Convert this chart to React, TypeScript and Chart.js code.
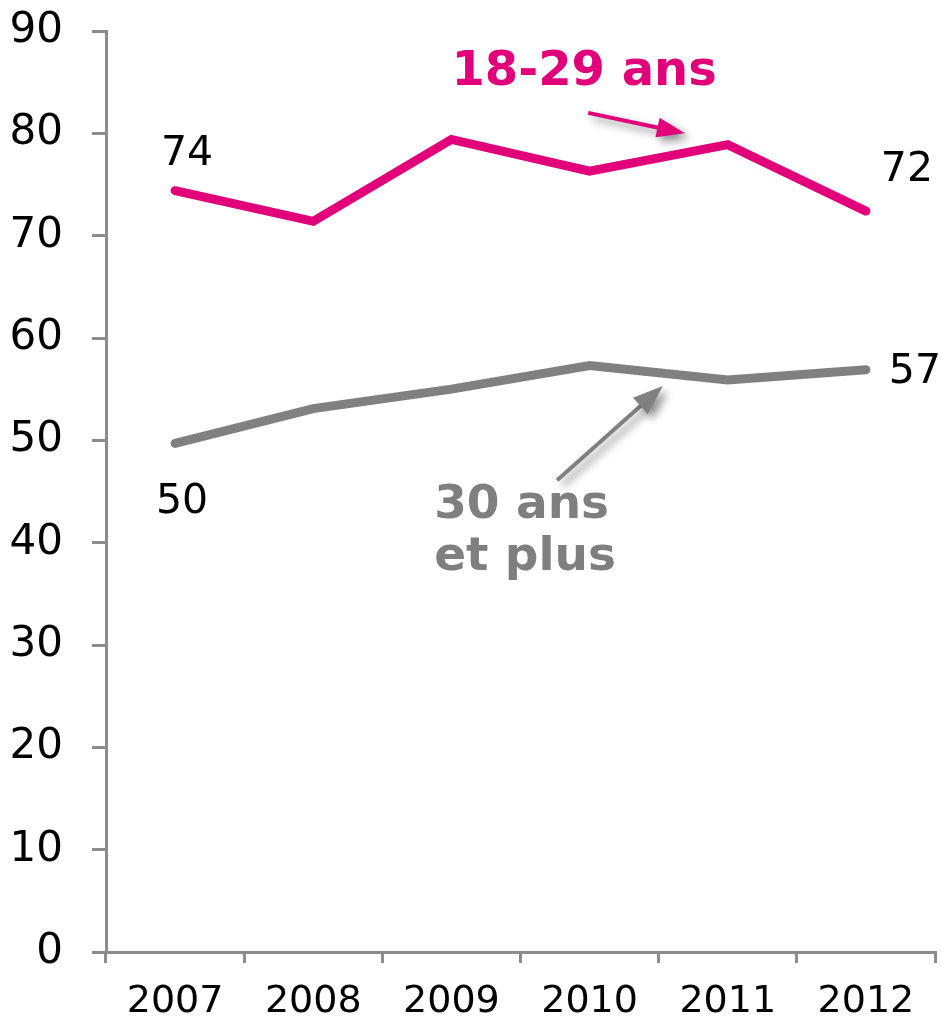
import React, { useEffect, useRef } from "react";
import { Chart, registerables } from "chart.js";

Chart.register(...registerables);

// ---- data ----
const years = ["2007", "2008", "2009", "2010", "2011", "2012"];
const youngValues = [74.4, 71.4, 79.4, 76.3, 78.9, 72.4];
const olderValues = [49.7, 53.1, 55.0, 57.3, 55.9, 56.9];
const yTickValues = [0, 10, 20, 30, 40, 50, 60, 70, 80, 90];
const youngName = "18-29 ans";
const olderNameLines = ["30 ans", "et plus"];

// ---- styles ----
const PINK = "#E2007A";
const GREY = "#808080";
const AXIS = "#8c8c8c";
const FONT = "'DejaVu Sans', Verdana, sans-serif";

function drawArrow(
  ctx: CanvasRenderingContext2D,
  x1: number, y1: number, x2: number, y2: number,
  color: string, width: number, headLen: number, headWidth: number
) {
  const ang = Math.atan2(y2 - y1, x2 - x1);
  const c = Math.cos(ang), s = Math.sin(ang);
  const bx = x2 - headLen * c, by = y2 - headLen * s;
  ctx.save();
  ctx.shadowColor = "rgba(0,0,0,0.45)";
  ctx.shadowBlur = 8;
  ctx.shadowOffsetX = 5;
  ctx.shadowOffsetY = 5;
  ctx.strokeStyle = color;
  ctx.fillStyle = color;
  ctx.lineWidth = width;
  ctx.lineCap = "butt";
  ctx.beginPath();
  ctx.moveTo(x1, y1);
  ctx.lineTo(bx + c * 2, by + s * 2);
  ctx.stroke();
  ctx.beginPath();
  ctx.moveTo(x2, y2);
  ctx.lineTo(bx - s * headWidth / 2, by + c * headWidth / 2);
  ctx.lineTo(bx + s * headWidth / 2, by - c * headWidth / 2);
  ctx.closePath();
  ctx.fill();
  ctx.restore();
}

const annotationPlugin = {
  id: "customAnnotations",
  afterDatasetsDraw(chart: any) {
    const ctx: CanvasRenderingContext2D = chart.ctx;
    const xs = chart.scales.x;
    const ys = chart.scales.y;
    const px = (i: number) => xs.getPixelForValue(i);
    const py = (v: number) => ys.getPixelForValue(v);

    // value labels (first & last point of each series)
    ctx.save();
    ctx.fillStyle = "#000";
    ctx.font = `41px ${FONT}`;
    ctx.textAlign = "center";
    ctx.textBaseline = "middle";
    const last = years.length - 1;
    const lbl = (i: number, v: number, dx: number, dy: number) =>
      ctx.fillText(String(Math.round(v)), px(i) + dx, py(v) + dy);
    lbl(0, youngValues[0], 12, -36);
    lbl(last, youngValues[last], 41, -41);
    lbl(0, olderValues[0], 7, 59);
    lbl(last, olderValues[last], 49, 3);
    ctx.restore();

    // series names
    ctx.save();
    ctx.textAlign = "left";
    ctx.textBaseline = "alphabetic";
    ctx.font = `bold 48px ${FONT}`;
    ctx.fillStyle = PINK;
    ctx.fillText(youngName, px(2.0), py(84.7));
    ctx.font = `bold 47px ${FONT}`;
    ctx.fillStyle = "#7f7f7f";
    ctx.fillText(olderNameLines[0], px(1.875), py(42.4));
    ctx.fillText(olderNameLines[1], px(1.875), py(42.4) + 52);
    ctx.restore();

    // arrows
    drawArrow(ctx, px(2.99), py(82.0), px(3.69), py(80.0), PINK, 4, 28, 20);
    drawArrow(ctx, px(2.765), py(46.1), px(3.53), py(55.3), GREY, 4, 30, 22);
  },
};

export default function App() {
  const canvasRef = useRef<HTMLCanvasElement | null>(null);

  useEffect(() => {
    document.body.style.margin = "0";
    const canvas = canvasRef.current;
    if (!canvas) return;
    const chart = new Chart(canvas, {
      type: "line",
      data: {
        labels: years,
        datasets: [
          {
            label: youngName,
            data: youngValues,
            borderColor: PINK,
            backgroundColor: PINK,
            borderWidth: 9,
            pointRadius: 0,
            borderCapStyle: "round",
            tension: 0,
          },
          {
            label: olderNameLines.join(" "),
            data: olderValues,
            borderColor: GREY,
            backgroundColor: GREY,
            borderWidth: 9,
            pointRadius: 0,
            borderCapStyle: "round",
            tension: 0,
          },
        ],
      },
      options: {
        responsive: false,
        animation: false,
        devicePixelRatio: 1,
        layout: { padding: { top: 31, right: 8, left: 0, bottom: 0 } },
        plugins: {
          legend: { display: false },
          tooltip: { enabled: false },
        },
        scales: {
          x: {
            type: "category",
            offset: true,
            grid: {
              offset: true,
              drawOnChartArea: false,
              drawTicks: true,
              tickLength: 11,
              color: AXIS,
              lineWidth: 3,
            },
            border: { color: AXIS, width: 3 },
            ticks: {
              color: "#000",
              font: { family: FONT, size: 38 },
              padding: 16,
              maxRotation: 0,
              autoSkip: false,
            },
            afterFit: (s: any) => {
              s.height = 68;
              s.paddingLeft = 0;
              s.paddingRight = 0;
            },
          },
          y: {
            min: 0,
            max: 90,
            afterBuildTicks: (s: any) => {
              s.ticks = yTickValues.map((v) => ({ value: v }));
            },
            grid: {
              drawOnChartArea: false,
              drawTicks: true,
              tickLength: 14,
              color: AXIS,
              lineWidth: 3,
            },
            border: { color: AXIS, width: 3 },
            ticks: {
              color: "#000",
              font: { family: FONT, size: 42 },
              padding: 29,
            },
            afterFit: (s: any) => {
              s.width = 106;
              s.paddingTop = 0;
              s.paddingBottom = 0;
            },
          },
        },
      },
      plugins: [annotationPlugin],
    } as any);
    return () => chart.destroy();
  }, []);

  return (
    <div style={{ width: 943, height: 1020 }}>
      <canvas ref={canvasRef} width={943} height={1020} style={{ display: "block" }} />
    </div>
  );
}
